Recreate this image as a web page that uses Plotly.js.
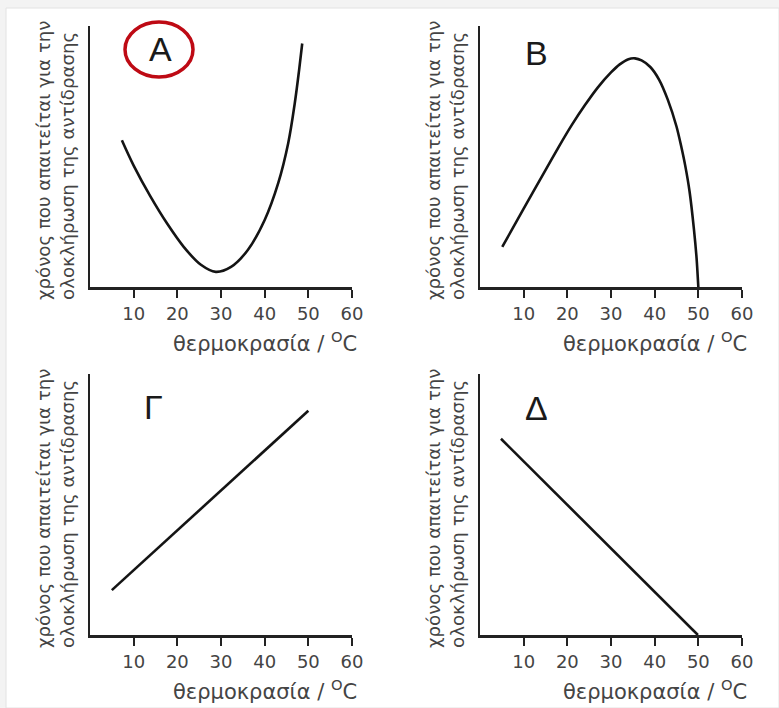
<!DOCTYPE html>
<html>
<head>
<meta charset="utf-8">
<script src="https://cdn.plot.ly/plotly-3.0.1.min.js"></script>
<style>html,body{margin:0;padding:0;background:#fff;}</style>
</head>
<body>
<div id="chart" style="width:779px;height:708px;"></div>
<script>
// ---- data ----
const tempTicks = [10, 20, 30, 40, 50, 60];
const panelLabels = ["A", "B", "Γ", "Δ"];
const xTitle = "θερμοκρασία / <sup>O</sup>C";
const yTitle = "χρόνος που απαιτείται για την<br>ολοκλήρωση της αντίδρασης";

// Panel A (U-shaped curve)
const aTemp = [7.3, 10.0, 13.8, 17.7, 21.5, 25.4, 28.8, 32.3, 36.1, 40.0, 43.1, 45.4, 46.9, 47.9, 48.6];
const aTime = [56.2, 46.5, 34.8, 24.2, 15.3, 8.5, 5.8, 7.7, 14.1, 25.7, 39.8, 55.2, 70.5, 83.3, 93.3];
// Panel B (inverted curve)
const bTemp = [5.1, 10.0, 15.0, 18.0, 21.0, 24.0, 27.0, 30.0, 32.0, 34.0, 35.5, 37.0, 39.0, 41.0, 43.0, 45.0, 46.0, 47.0, 48.0, 49.0, 49.6, 50.0];
const bTime = [15.4, 30.0, 44.8, 53.6, 62.0, 69.6, 76.5, 82.2, 85.3, 87.3, 87.6, 86.8, 84.3, 79.5, 71.8, 61.5, 54.5, 46.5, 36.5, 22.0, 11.0, 0];
// Panel Γ (rising line)
const gTemp = [5.0, 50.0];
const gTime = [17.2, 85.9];
// Panel Δ (falling line)
const dTemp = [4.8, 49.9];
const dTime = [75.2, 0];

// ---- layout helpers ----
const W = 779, H = 708;
const px = v => v / W;
const py = v => 1 - v / H;
const FONT = "DejaVu Sans, Liberation Sans, Arial, sans-serif";
const lineStyle = {color: "#141414", width: 2.6};

const traces = [
  {x: aTemp, y: aTime, xaxis: "x", yaxis: "y", mode: "lines", line: Object.assign({shape: "spline", smoothing: 1}, lineStyle)},
  {x: bTemp, y: bTime, xaxis: "x2", yaxis: "y2", mode: "lines", line: Object.assign({shape: "spline", smoothing: 0.7}, lineStyle)},
  {x: gTemp, y: gTime, xaxis: "x3", yaxis: "y3", mode: "lines", line: lineStyle},
  {x: dTemp, y: dTime, xaxis: "x4", yaxis: "y4", mode: "lines", line: lineStyle}
];

const panels = [
  {left: 90, top: 26, bottom: 287},
  {left: 480, top: 26, bottom: 287},
  {left: 90, top: 374, bottom: 635},
  {left: 480, top: 374, bottom: 635}
];
const plotW = 262;

function xAxis(i) {
  const p = panels[i];
  return {
    domain: [px(p.left), px(p.left + plotW)],
    range: [0, 60], fixedrange: true,
    anchor: i === 0 ? "y" : "y" + (i + 1),
    showline: true, linecolor: "#222", linewidth: 2.5,
    showgrid: false, zeroline: false,
    ticks: "outside", ticklen: 8, tickwidth: 2, tickcolor: "#222",
    tickvals: tempTicks, ticktext: tempTicks.map(String),
    tickfont: {family: FONT, size: 18, color: "#444"},
    ticklabelstandoff: 1
  };
}
function yAxis(i) {
  const p = panels[i];
  return {
    domain: [py(p.bottom), py(p.top)],
    range: [0, 100], fixedrange: true,
    anchor: i === 0 ? "x" : "x" + (i + 1),
    showline: true, linecolor: "#222", linewidth: 2.5,
    showgrid: false, zeroline: false,
    ticks: "", showticklabels: false
  };
}

const annotations = [];
const labelPos = [[160, 49], [536, 53], [153, 407], [536, 408]];
panels.forEach((p, i) => {
  // y axis title (two rotated lines)
  annotations.push({
    xref: "paper", yref: "paper",
    x: px(p.left - 35), y: py(p.bottom + 15),
    xanchor: "center", yanchor: "bottom",
    text: yTitle, textangle: -90, align: "left", showarrow: false,
    font: {family: FONT, size: 18.2, color: "#444"}
  });
  // x axis title
  annotations.push({
    xref: "paper", yref: "paper",
    x: px(p.left + plotW + 7), y: py(p.bottom + 55),
    xanchor: "right", yanchor: "middle",
    text: xTitle, showarrow: false,
    font: {family: FONT, size: 21, color: "#444"}
  });
  // panel letter
  annotations.push({
    xref: "paper", yref: "paper",
    x: px(labelPos[i][0]), y: py(labelPos[i][1]),
    xanchor: "center", yanchor: "middle",
    text: panelLabels[i], showarrow: false,
    font: {family: "Liberation Sans, Arial, sans-serif", size: 34, color: "#1a1a1a"}
  });
});

const layout = {
  width: W, height: H,
  margin: {l: 0, r: 0, t: 0, b: 0},
  paper_bgcolor: "#f3f3f3",
  plot_bgcolor: "rgba(0,0,0,0)",
  showlegend: false,
  xaxis: xAxis(0), yaxis: yAxis(0),
  xaxis2: xAxis(1), yaxis2: yAxis(1),
  xaxis3: xAxis(2), yaxis3: yAxis(2),
  xaxis4: xAxis(3), yaxis4: yAxis(3),
  annotations: annotations,
  shapes: [
    {type: "rect", xref: "paper", yref: "paper", layer: "below",
     x0: px(6), x1: 1, y0: 0, y1: py(8),
     fillcolor: "#ffffff", line: {color: "#e2e2e2", width: 1}},
    {type: "circle", xref: "paper", yref: "paper",
     x0: px(125), x1: px(193), y0: py(77), y1: py(22),
     line: {color: "rgb(190,10,20)", width: 3.5}}
  ]
};

Plotly.newPlot("chart", traces, layout, {displayModeBar: false, staticPlot: true});
</script>
</body>
</html>
